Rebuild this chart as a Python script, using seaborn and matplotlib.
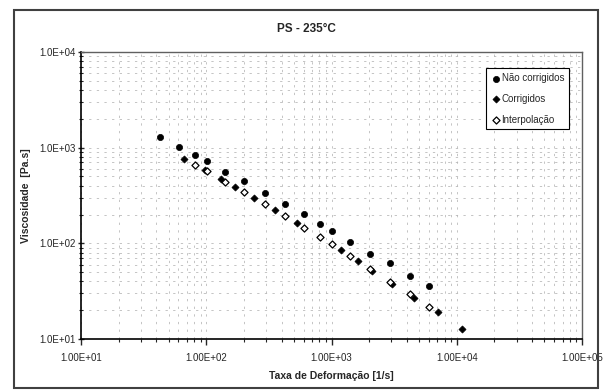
import numpy as np
import pandas as pd
import matplotlib
matplotlib.use("Agg")
import matplotlib.pyplot as plt
import matplotlib.ticker as mticker
from matplotlib.patches import Rectangle
import seaborn as sns

# data (shear rate [1/s], viscosity [Pa.s])
nc_rate = [42.5, 60.6, 80.9, 101.4, 142, 201.3, 295.6, 424.6, 605.3, 805,
           1007, 1410, 2011, 2937, 4211, 6003]
nc_visc = [1302, 1009, 844, 725, 563, 443, 336.7, 258.4, 201.2, 158.5,
           134.6, 103, 78.1, 61.6, 45.9, 35.9]

corr_rate = [66.8, 98.3, 131.2, 168.1, 240.2, 355.8, 530.3, 1191, 1634, 2094,
             3024, 4549, 7044, 10972]
corr_visc = [756, 584, 475, 391, 296.3, 222, 164.3, 85.2, 65.8, 51.4,
             37.5, 27.0, 19.1, 12.7]

interp_rate = [80.9, 101.4, 142, 201.3, 295.6, 424.6, 605.3, 805, 1007, 1410,
               2011, 2937, 4211, 6003]
interp_visc = [659, 570, 441, 342, 256, 194.5, 145.7, 117.1, 98.7, 74.1,
               54.3, 39.5, 29.3, 21.4]

sns.set_style("white")
plt.rcParams['font.family'] = ['Liberation Sans', 'DejaVu Sans']

fig = plt.figure(figsize=(6.06, 3.92), dpi=100)
ax = fig.add_axes([81/606, 1-339/392, 501/606, 287/392])

# outer chart frame
fig.patches.append(Rectangle((14/606, 4/392), 584/606, 378/392, transform=fig.transFigure,
                             fill=False, edgecolor='#404040', lw=1.5))

nc = pd.DataFrame({'rate': nc_rate, 'visc': nc_visc})
co = pd.DataFrame({'rate': corr_rate, 'visc': corr_visc})
ip = pd.DataFrame({'rate': interp_rate, 'visc': interp_visc})

sns.scatterplot(data=nc, x='rate', y='visc', ax=ax, marker='o', s=20,
                color='black', edgecolor='black', linewidth=0.5, label='Não corrigidos', zorder=3)
sns.scatterplot(data=co, x='rate', y='visc', ax=ax, marker='D', s=13,
                color='black', edgecolor='black', linewidth=0.5, label='Corrigidos', zorder=3)
sns.scatterplot(data=ip, x='rate', y='visc', ax=ax, marker='D', s=13,
                color='white', edgecolor='black', linewidth=0.9, label='Interpolação', zorder=4)

ax.set_xscale('log')
ax.set_yscale('log')
ax.set_xlim(10, 1e5)
ax.set_ylim(10, 1e4)

ax.xaxis.set_major_formatter(mticker.FuncFormatter(lambda v, p: f"{v:.2E}"))
ax.yaxis.set_major_formatter(mticker.FuncFormatter(lambda v, p: f"{v:.1E}"))
ax.xaxis.set_minor_locator(mticker.LogLocator(base=10, subs=np.arange(2, 10)))
ax.yaxis.set_minor_locator(mticker.LogLocator(base=10, subs=np.arange(2, 10)))
ax.xaxis.set_minor_formatter(mticker.NullFormatter())
ax.yaxis.set_minor_formatter(mticker.NullFormatter())

ax.tick_params(axis='x', which='major', direction='out', length=4, width=1, labelsize=7, pad=6)
ax.tick_params(axis='x', which='minor', direction='out', length=2.5, width=0.8)
ax.tick_params(axis='y', which='major', direction='inout', length=5, width=1, labelsize=7, pad=1)
ax.tick_params(axis='y', which='minor', direction='inout', length=3, width=0.8)
ax.tick_params(bottom=True, left=True, which='both')

ax.grid(True, which='both', color='#b4b4b4', linestyle=(0, (3, 7)), linewidth=0.55)
ax.set_axisbelow(True)

for side in ['left', 'bottom']:
    ax.spines[side].set_color('black')
    ax.spines[side].set_linewidth(1.2)
for side in ['top', 'right']:
    ax.spines[side].set_color('#606060')
    ax.spines[side].set_linewidth(1.0)

ax.set_xlabel('Taxa de Deformação [1/s]', fontsize=7.5, fontweight='bold', labelpad=6)
ax.set_ylabel('Viscosidade  [Pa.s]', fontsize=7.5, fontweight='bold', labelpad=6)
fig.text(306/606, 1-29/392, 'PS - 235°C', ha='center', va='center',
         fontsize=8.5, fontweight='bold')

leg = ax.legend(loc='upper right', bbox_to_anchor=(0.974, 0.943), fontsize=7,
                frameon=True, fancybox=False, edgecolor='black', framealpha=1,
                handletextpad=0.1, handlelength=1.0, borderpad=0.5, labelspacing=1.1,
                borderaxespad=0)
leg.get_frame().set_linewidth(0.8)

fig.savefig('out.png', dpi=100)
